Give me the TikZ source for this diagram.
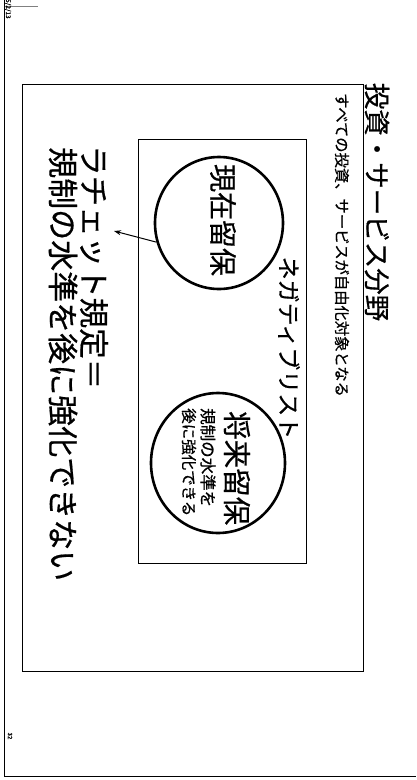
\documentclass[tikz,border=0pt]{standalone}
\usepackage{fontspec}
\setmainfont{Noto Sans CJK JP}[FakeBold=0.6]
\usetikzlibrary{shapes.geometric,arrows.meta}
\tikzset{
  vtext/.style={rotate=-90, inner sep=0pt},
  oval/.style={ellipse, draw, line width=2.6pt, inner sep=0pt},
  framebox/.style={draw, line width=0.9pt},
}
\begin{document}
\begin{tikzpicture}[x=1pt,y=-1pt]
\useasboundingbox (0,0) rectangle (416,780);
\fill[white] (0,0) rectangle (416,780);
% page border
\draw[line width=1.2pt] (4.5,0) -- (4.5,776.5) -- (416,776.5);
\draw[line width=0.8pt, gray] (4.5,6.5) -- (38,6.5);
\node[vtext, anchor=west, font=\fontsize{6.5}{7}\selectfont] (date) at (8,-1) {5/2/13};
\node[vtext, font=\fontsize{6}{7}\selectfont] (pgno) at (10,736) {32};
% slide frame
\draw[framebox] (22,84) rectangle (363,671);
\node[vtext, font=\fontsize{26.5}{30}\selectfont] (title) at (377,202) {投資・サービス分野};
\node[vtext, font=\fontsize{15.3}{17}\selectfont] (sub) at (342,245) {すべての投資、サービスが自由化対象となる};
% inner box
\draw[framebox] (138,139) rectangle (306,563);
\node[vtext, font=\fontsize{23}{26}\selectfont] (neg) at (289,348) {ネガティブリスト};
% ovals
\node[oval, minimum width=128pt, minimum height=132pt] (e1) at (219,223) {};
\node[vtext, font=\fontsize{28}{30}\selectfont] (gen) at (223,220) {現在留保};
\node[oval, minimum width=134pt, minimum height=140pt] (e2) at (218,463) {};
\node[vtext, anchor=west, font=\fontsize{28.5}{30}\selectfont] (sho) at (237,411) {将来留保};
\node[vtext, anchor=west, font=\fontsize{16.5}{18}\selectfont] (sho2) at (208,408) {規制の水準を};
\node[vtext, anchor=west, font=\fontsize{15.5}{17}\selectfont] (sho3) at (189,408) {後に強化できる};
% ratchet text
\node[vtext, anchor=west, font=\fontsize{30.5}{32}\selectfont] (rat) at (94,145) {ラチェット規定＝};
\node[vtext, anchor=west, font=\fontsize{31}{33}\selectfont] (rat2) at (63,147) {規制の水準を後に強化できない};
% arrow
\coordinate (tip) at (114,231);
\draw[line width=1pt, -{Stealth[length=7pt,width=5pt]}] (e1.197) -- (tip);
\end{tikzpicture}
\end{document}
